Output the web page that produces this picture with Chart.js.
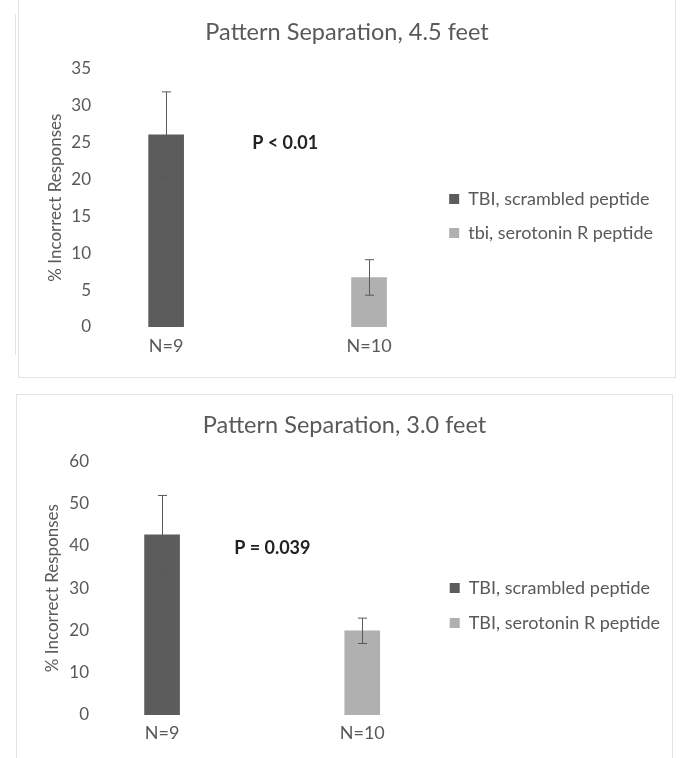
<!DOCTYPE html>
<html>
<head>
<meta charset="utf-8">
<script src="https://cdn.jsdelivr.net/npm/chart.js@4.4.0/dist/chart.umd.min.js"></script>
<style>
  body { margin: 0; background: #fff; width: 687px; height: 758px; overflow: hidden; position: relative; }
  .card { position: absolute; border: 1px solid #e4e4e4; background: #fff; }
  #card1 { left: 18px; top: -1px; width: 656px; height: 377px; }
  #card2 { left: 16px; top: 394px; width: 655px; height: 380px; }
  .edge { position: absolute; left: 15px; top: 14px; width: 1px; height: 341px; background: #e4e4e4; }
  canvas { display: block; }
</style>
</head>
<body>
<div class="edge"></div>
<div class="card" id="card1"><canvas id="chart45" width="656" height="377"></canvas></div>
<div class="card" id="card2"><canvas id="chart30" width="655" height="380"></canvas></div>
<script>
// categories (shared by both charts)
const groupLabels = ['N=9', 'N=10'];
const groupPos = [1, 2];

// 4.5 feet
const series45 = ['TBI, scrambled peptide', 'tbi, serotonin R peptide'];
const means45 = [26.0, 6.7];
const errors45 = [5.8, 2.4];

// 3.0 feet
const series30 = ['TBI, scrambled peptide', 'TBI, serotonin R peptide'];
const means30 = [42.6, 19.9];
const errors30 = [9.3, 3.0];

const barColors = ['#5c5c5c', '#b0b0b0'];
const FONT = 'Lato';
const GREY = '#595959';

// draws the +/- error whiskers from the error arrays
const errorBars = {
  id: 'errorBars',
  afterDatasetsDraw(chart, args, opts) {
    const ctx = chart.ctx, y = chart.scales.y;
    ctx.save();
    ctx.strokeStyle = GREY;
    ctx.lineWidth = 1;
    chart.data.datasets.forEach((ds, i) => {
      const bar = chart.getDatasetMeta(i).data[0];
      const v = ds.data[0].y, e = opts.errors[i];
      const x = Math.round(bar.x) + 0.5;
      const top = y.getPixelForValue(v + e), bot = y.getPixelForValue(v - e);
      ctx.beginPath();
      ctx.moveTo(x, top); ctx.lineTo(x, bot);
      ctx.moveTo(x - 4.5, top); ctx.lineTo(x + 4.5, top);
      ctx.moveTo(x - 4.5, bot); ctx.lineTo(x + 4.5, bot);
      ctx.stroke();
    });
    ctx.restore();
  }
};

// the p-value note, anchored in data coordinates
const pNote = {
  id: 'pNote',
  afterDraw(chart, args, opts) {
    const ctx = chart.ctx;
    ctx.save();
    ctx.fillStyle = '#222';
    ctx.font = 'bold 18px ' + FONT;
    ctx.textAlign = 'left';
    ctx.textBaseline = 'middle';
    ctx.fillText(opts.text, chart.scales.x.getPixelForValue(opts.at[0]), chart.scales.y.getPixelForValue(opts.at[1]));
    ctx.restore();
  }
};

function makeChart(id, cfg) {
  return new Chart(document.getElementById(id), {
    type: 'bar',
    data: {
      datasets: cfg.series.map((name, i) => ({
        label: name,
        data: [{ x: groupPos[i], y: cfg.means[i] }],
        backgroundColor: barColors[i],
        barThickness: 35,
        grouped: false
      }))
    },
    options: {
      responsive: false,
      animation: false,
      layout: { padding: { left: cfg.pad, right: cfg.pad } },
      plugins: {
        title: {
          display: true,
          text: cfg.title,
          color: GREY,
          font: { family: FONT, size: 23.5, weight: 'normal' },
          padding: cfg.titlePad
        },
        legend: {
          position: 'right',
          align: 'center',
          maxWidth: 300,
          title: { display: true, text: '', font: { size: 10 }, padding: { top: 0, bottom: cfg.legendShift } },
          labels: {
            boxWidth: 10, boxHeight: 10,
            padding: cfg.legendGap,
            color: GREY,
            font: { family: FONT, size: 18 }
          }
        },
        tooltip: { enabled: false },
        errorBars: { errors: cfg.errors },
        pNote: { text: cfg.pText, at: cfg.pAt }
      },
      scales: {
        x: {
          type: 'linear',
          offset: false,
          min: cfg.xMin, max: cfg.xMax,
          grid: { display: false, drawTicks: false },
          border: { display: false },
          afterBuildTicks: s => { s.ticks = groupPos.map(v => ({ value: v })); },
          afterFit: s => { s.height = cfg.xHeight; },
          ticks: {
            autoSkip: false, maxRotation: 0,
            padding: cfg.xPad,
            color: GREY,
            font: { family: FONT, size: 18 },
            callback: v => groupLabels[groupPos.indexOf(v)]
          }
        },
        y: {
          min: 0, max: cfg.yMax,
          grid: { display: false, drawTicks: false },
          border: { display: false },
          afterFit: s => { s.width = 76 - cfg.pad; },
          ticks: { stepSize: cfg.yStep, padding: 4, color: GREY, font: { family: FONT, size: 17 } },
          title: {
            display: true,
            text: '% Incorrect Responses',
            color: GREY,
            font: { family: FONT, size: 17 },
            padding: { top: cfg.yTitleOff, bottom: 0 }
          }
        }
      }
    },
    plugins: [errorBars, pNote]
  });
}

makeChart('chart45', {
  title: 'Pattern Separation, 4.5 feet',
  series: series45, means: means45, errors: errors45,
  yMax: 35, yStep: 5,
  titlePad: { top: 18, bottom: 22 },
  xHeight: 50, xPad: 8,
  xMin: 0.6495, xMax: 2.316,
  pad: 12,
  yTitleOff: 14,
  legendGap: 16, legendShift: 43,
  pText: 'P < 0.01', pAt: [1.424, 24.9]
});

makeChart('chart30', {
  title: 'Pattern Separation, 3.0 feet',
  series: series30, means: means30, errors: errors30,
  yMax: 60, yStep: 10,
  titlePad: { top: 16, bottom: 22 },
  xHeight: 60, xPad: 7,
  xMin: 0.655, xMax: 2.352,
  pad: 2,
  yTitleOff: 23,
  legendGap: 17, legendShift: 29,
  pText: 'P = 0.039', pAt: [1.36, 39.4]
});
</script>
</body>
</html>
